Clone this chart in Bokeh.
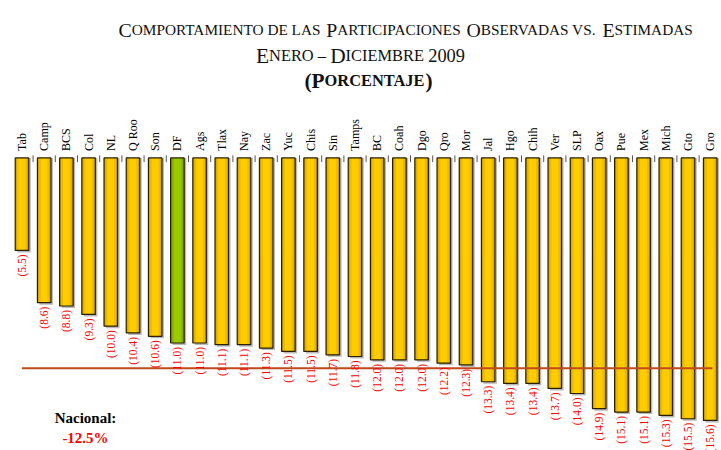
from bokeh.plotting import figure
from bokeh.models import Range1d, Label, ColumnDataSource
from bokeh.embed import file_html
from bokeh.resources import INLINE
from bokeh.core.properties import value

# ---------------- data ----------------
states = ["Tab", "Camp", "BCS", "Col", "NL", "Q Roo", "Son", "DF", "Ags", "Tlax",
          "Nay", "Zac", "Yuc", "Chis", "Sin", "Tamps", "BC", "Coah", "Dgo", "Qro",
          "Mor", "Jal", "Hgo", "Chih", "Ver", "SLP", "Oax", "Pue", "Mex", "Mich",
          "Gto", "Gro"]
variation = [-5.5, -8.6, -8.8, -9.3, -10.0, -10.4, -10.6, -11.0, -11.0, -11.1,
             -11.1, -11.3, -11.5, -11.5, -11.7, -11.8, -12.0, -12.0, -12.0, -12.2,
             -12.3, -13.3, -13.4, -13.4, -13.7, -14.0, -14.9, -15.1, -15.1, -15.3,
             -15.5, -15.6]
nacional = -12.5
highlight = "DF"

title_lines = ["Comportamiento de las Participaciones Observadas vs. Estimadas",
               "Enero – Diciembre 2009",
               "(Porcentaje)"]

# ---------------- figure ----------------
W, H = 721, 450
n = len(states)
idx = list(range(n))
p = figure(width=W, height=H, output_backend="svg", toolbar_location=None,
           x_range=Range1d(-0.968, 31.509), y_range=Range1d(-17.386, 9.352),
           x_axis_location=None, y_axis_location=None, min_border=0)
p.grid.visible = False
p.outline_line_color = None
p.background_fill_color = "white"
p.border_fill_color = "white"

is_hl = [s == highlight for s in states]
src = ColumnDataSource(dict(
    x=idx,
    xs=[i + 0.09 for i in idx],
    top=[0] * n,
    bottom=variation,
    sbottom=[v - 0.12 for v in variation],
    c_outer=["#7E9E00" if h else "#D2A100" for h in is_hl],
    c_mid=["#8DB400" if h else "#EDBB00" for h in is_hl],
    c_in=["#99CC00" if h else "#FFCC00" for h in is_hl],
    lbl=["(%.1f)" % abs(v) for v in variation],
    name=states,
))

bw = 0.61
# shadow
p.vbar(x="xs", width=bw, top="top", bottom="sbottom", source=src,
       fill_color="#9a9a9a", fill_alpha=0.7, line_color=None)
# gradient-like bar
p.vbar(x="x", width=bw, top="top", bottom="bottom", source=src,
       fill_color="c_outer", line_color=None)
p.vbar(x="x", width=bw * 0.78, top="top", bottom="bottom", source=src,
       fill_color="c_mid", line_color=None)
p.vbar(x="x", width=bw * 0.5, top="top", bottom="bottom", source=src,
       fill_color="c_in", line_color=None)
p.vbar(x="x", width=bw, top="top", bottom="bottom", source=src,
       fill_alpha=0, line_color="#2a2000", line_width=1.2)

# category ticks at top
p.segment(x0=[i + 0.5 for i in idx[:-1]], x1=[i + 0.5 for i in idx[:-1]],
          y0=[0.15] * (n - 1), y1=[-0.25] * (n - 1), line_color="#555555", line_width=1)

# national line
p.segment(x0=[0], x1=[n - 0.9], y0=[nacional], y1=[nacional],
          line_color="#BF4A1C", line_width=2)

# category labels (rotated)
p.text(x="x", y="top", text="name", source=src, angle=1.5708,
       text_align="left", text_baseline="middle", y_offset=-7,
       text_font=value("Liberation Serif"), text_font_size="12px", text_color="black")

# value labels (rotated)
p.text(x="x", y="bottom", text="lbl", source=src, angle=1.5708,
       text_align="right", text_baseline="middle", y_offset=4,
       text_font=value("Liberation Serif"), text_font_size="11.5px", text_color="#FF0000")

# ---------------- small-caps title ----------------
REG = dict(A=722, B=667, C=667, D=722, E=611, F=556, G=722, H=722, I=333, J=389, K=722,
           L=611, M=889, N=722, O=722, P=556, Q=722, R=667, S=556, T=611, U=722, V=722,
           W=944, X=722, Y=722, Z=611)
BOLD = dict(A=722, B=667, C=722, D=722, E=667, F=611, G=778, H=778, I=389, J=500, K=778,
            L=667, M=944, N=722, O=778, P=611, Q=778, R=722, S=556, T=667, U=722, V=722,
            W=1000, X=722, Y=722, Z=667)
OTHER = {" ": 250, ".": 250, "–": 500, "(": 333, ")": 333, "%": 833}


def cw(ch, bold):
    if ch.isdigit():
        return 500
    if ch in OTHER:
        return OTHER[ch]
    return (BOLD if bold else REG).get(ch, 600)


def small_caps(text, cx, ref_base, target_w, bold=False, ratio=1.3):
    runs = []
    for ch in text:
        if ch.isupper() or ch in "()":
            k = ratio
        elif ch.isdigit():
            k = 1.12
        else:
            k = 1.0
        u = ch.upper()
        if runs and runs[-1][1] == k:
            runs[-1][0] += u
        else:
            runs.append([u, k])
    unit = sum(cw(c, bold) * k for t, k in runs for c in t) / 1000.0
    s = target_w / unit
    x = cx - target_w / 2.0
    y = H - ref_base
    for t, k in runs:
        size = s * k
        p.add_layout(Label(x=x, y=y, x_units="screen", y_units="screen", text=t,
                           text_font="Liberation Serif", text_font_size="%.1fpx" % size,
                           text_font_style="bold" if bold else "normal",
                           text_align="left", text_baseline="alphabetic",
                           text_color="#111111"))
        x += sum(cw(c, bold) for c in t) / 1000.0 * size


small_caps(title_lines[0], 405, 29, 574)
small_caps(title_lines[1], 360, 55, 209)
small_caps(title_lines[2], 368, 80, 128, bold=True)

# nacional annotation
p.add_layout(Label(x=85, y=H - 417, x_units="screen", y_units="screen",
                   text="Nacional:", text_font="Liberation Serif", text_font_size="15px",
                   text_font_style="bold", text_align="center", text_baseline="alphabetic",
                   text_color="black"))
p.add_layout(Label(x=85, y=H - 437, x_units="screen", y_units="screen",
                   text="%.1f%%" % nacional, text_font="Liberation Serif", text_font_size="15px",
                   text_font_style="bold", text_align="center", text_baseline="alphabetic",
                   text_color="#FF0000"))

open("out.html", "w").write(file_html(p, INLINE))
